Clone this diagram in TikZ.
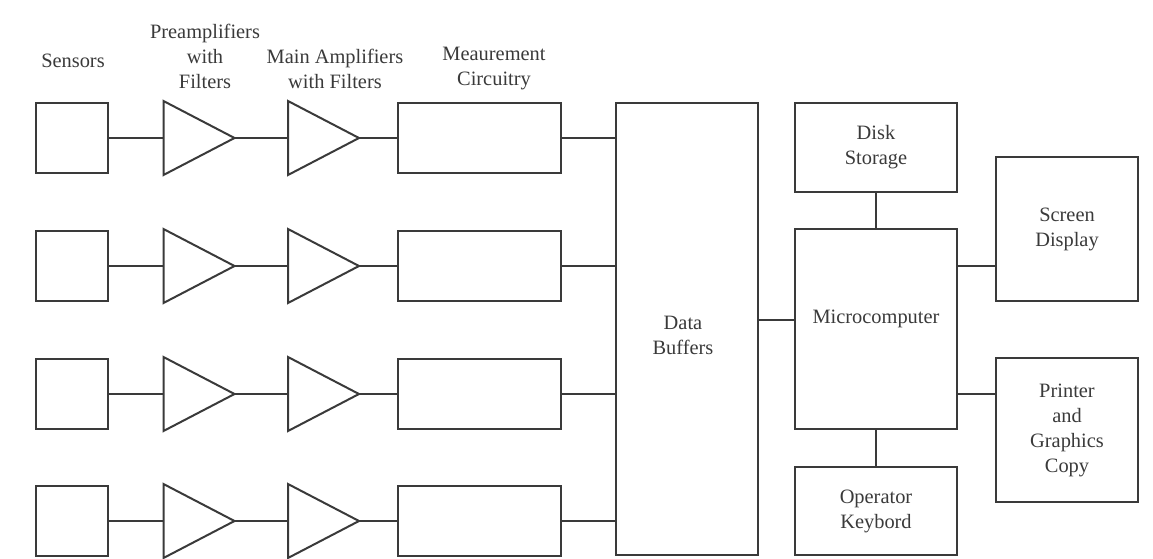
\documentclass[tikz,border=0pt]{standalone}
\usepackage{fontspec}
\setmainfont{Liberation Serif}
\usetikzlibrary{shapes.geometric}

\definecolor{inkgray}{HTML}{3A3A3A}

\begin{document}
\begin{tikzpicture}[x = 0.5pt, y = -0.5pt,
		every node/.style = {font=\fontsize{10.2}{12.5}\selectfont, text=inkgray, align=center},
		blk/.style = {draw=inkgray, line width=1pt, inner sep=0pt, outer sep=0pt},
		sensor/.style = {blk, minimum width=36pt, minimum height=35pt},
		meas/.style = {blk, minimum width=81.5pt, minimum height=35pt},
		amp/.style = {blk, isosceles triangle, isosceles triangle stretches, shape border rotate=0, minimum width=37pt, minimum height=35.5pt, anchor=lower side},
		wire/.style = {draw=inkgray, line width=1pt}]
		\useasboundingbox (0,0) rectangle (1153,558);
		% column headings
		\node (hs) at (73,61) {Sensors};
		\node (hp) at (205,56) {Preamplifiers\\with\\Filters};
		\node (hm) at (335,69) {Main Amplifiers\\with Filters};
		\node (hc) at (494,69) {Meaurement\\Circuitry};
		% four input channels
		\node [sensor] (s1) at (72,138) {};
		\node [sensor] (s2) at (72,266) {};
		\node [sensor] (s3) at (72,394) {};
		\node [sensor] (s4) at (72,521) {};
		\node [amp] (p1) at (163.5,138) {};
		\node [amp] (p2) at (163.5,266) {};
		\node [amp] (p3) at (163.5,394) {};
		\node [amp] (p4) at (163.5,521) {};
		\node [amp] (a1) at (288,138) {};
		\node [amp] (a2) at (288,266) {};
		\node [amp] (a3) at (288,394) {};
		\node [amp] (a4) at (288,521) {};
		\node [meas] (m1) at (479.5,138) {};
		\node [meas] (m2) at (479.5,266) {};
		\node [meas] (m3) at (479.5,394) {};
		\node [meas] (m4) at (479.5,521) {};
		% buffers, computer and peripherals
		\node [blk, minimum width=71pt, minimum height=226pt, label={[yshift=-3pt, xshift=-2pt]center:Data\\Buffers}] (db) at (687,329) {};
		\node [blk, minimum width=81pt, minimum height=100pt, label={[yshift=5pt]center:Microcomputer}] (mc) at (876,329) {};
		\node [blk, minimum width=81pt, minimum height=44.5pt] (ds) at (876,147.5) {Disk\\Storage};
		\node [blk, minimum width=81pt, minimum height=44pt] (kb) at (876,511) {Operator\\Keybord};
		\node [blk, minimum width=71pt, minimum height=72pt] (sd) at (1067,229) {Screen\\Display};
		\node [blk, minimum width=71pt, minimum height=72pt] (pr) at (1067,430) {Printer\\and\\Graphics\\Copy};
		% wires
		\draw [wire] (s1.east) -- (p1.lower side) (p1.apex) -- (a1.lower side) (a1.apex) -- (m1.west) (m1.east) -- (m1.east -| db.west);
		\draw [wire] (s2.east) -- (p2.lower side) (p2.apex) -- (a2.lower side) (a2.apex) -- (m2.west) (m2.east) -- (m2.east -| db.west);
		\draw [wire] (s3.east) -- (p3.lower side) (p3.apex) -- (a3.lower side) (a3.apex) -- (m3.west) (m3.east) -- (m3.east -| db.west);
		\draw [wire] (s4.east) -- (p4.lower side) (p4.apex) -- (a4.lower side) (a4.apex) -- (m4.west) (m4.east) -- (m4.east -| db.west);
		\draw [wire] ([yshift=4.5pt]mc.west) -- ([yshift=4.5pt]mc.west -| db.east);
		\draw [wire] (ds.south) -- (mc.north);
		\draw [wire] (mc.south) -- (kb.north);
		\draw [wire] (mc.east |- sd.west) ++(0,37) coordinate (tsd) -- (tsd -| sd.west);
		\draw [wire] (mc.east |- m3.east) coordinate (tpr) -- (tpr -| pr.west);
	\end{tikzpicture}
\end{document}
